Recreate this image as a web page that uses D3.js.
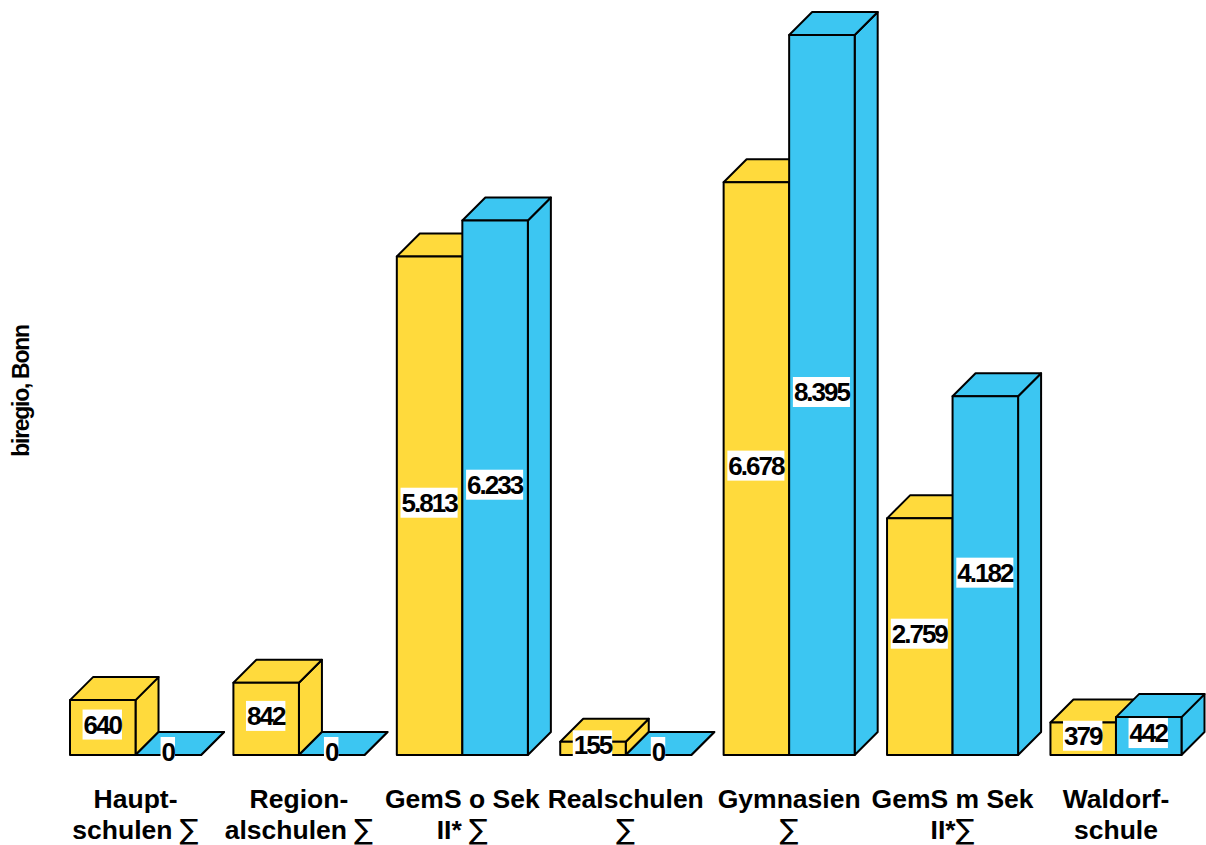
<!DOCTYPE html>
<html><head><meta charset="utf-8">
<script src="https://cdn.jsdelivr.net/npm/d3@7"></script>
<style>html,body{margin:0;padding:0;background:#fff;overflow:hidden}svg{display:block}text{font-family:"Liberation Sans",Arial,sans-serif}</style>
</head><body><div id="chart"></div>
<script>
const categories = ["Haupt-\nschulen ∑","Region-\nalschulen ∑","GemS o Sek\nII* ∑","Realschulen\n∑","Gymnasien\n∑","GemS m Sek\nII*∑","Waldorf-\nschule"];
const seriesNames = ["A","B"];
const seriesA = [640,842,5813,155,6678,2759,379];
const seriesB = [0,0,6233,0,8395,4182,442];
const seriesColors = ["#FFDA3C","#3CC6F2"];
const axisTitle = "biregio, Bonn";

const W=1206,H=845,depth=23;
const svg=d3.select("#chart").append("svg").attr("width",W).attr("height",H);
const x=d3.scaleBand().domain(categories).range([70,1181.5]).paddingInner(0.198).paddingOuter(0);
const xs=d3.scaleBand().domain(seriesNames).range([0,x.bandwidth()]);
const y=d3.scaleLinear().domain([0,8395]).range([755,35]);
const color=d3.scaleOrdinal().domain(seriesNames).range(seriesColors);
const fmt=d3.formatLocale({decimal:",",thousands:".",grouping:[3],currency:["","€"]}).format(",d");
const rows=[];
seriesNames.forEach((s,si)=>{const vals=si?seriesB:seriesA;categories.forEach((c,i)=>rows.push({c,s,v:vals[i]}));});
rows.sort((a,b)=>categories.indexOf(a.c)-categories.indexOf(b.c)||seriesNames.indexOf(a.s)-seriesNames.indexOf(b.s));
const style=sel=>sel.attr("stroke","#000").attr("stroke-width",2).attr("stroke-linejoin","round");
const bars=svg.append("g").selectAll("g").data(rows).join("g").each(function(d){
  const g=d3.select(this),x0=x(d.c)+xs(d.s),x1=x0+xs.bandwidth(),y0=y(0),yt=y(d.v),f=color(d.s);
  const path=p=>g.append("path").attr("d",d3.line()(p)+"Z").attr("fill",f).call(style);
  path([[x1,y0],[x1+depth,y0-depth],[x1+depth,yt-depth],[x1,yt]]);
  path([[x0,yt],[x0+depth,yt-depth],[x1+depth,yt-depth],[x1,yt]]);
  if(d.v>0) path([[x0,y0],[x1,y0],[x1,yt],[x0,yt]]);
});
const labels=svg.append("g").selectAll("g").data(rows).join("g").each(function(d){
  const g=d3.select(this),cx=x(d.c)+xs(d.s)+xs.bandwidth()/2-0.5,cy=(y(0)+y(d.v))/2-3;
  const r=g.append("rect").attr("fill","#fff");
  const t=g.append("text").attr("x",cx).attr("y",cy+9).attr("text-anchor","middle")
    .attr("font-size",26).attr("font-weight","bold").attr("letter-spacing",-2).attr("fill","#000").text(fmt(d.v));
  const w=t.node().getComputedTextLength()+2;
  r.attr("x",cx-w/2).attr("y",cy-15).attr("width",w).attr("height",30);
});
const catG=svg.append("g").selectAll("text").data(categories).join("text")
  .attr("text-anchor","middle").attr("font-size",26.5).attr("font-weight","bold").attr("fill","#000");
catG.each(function(c){
  const sel=d3.select(this),cx=x(c)+x.bandwidth()/2;
  c.split("\n").forEach((ln,i)=>{
    const ts=sel.append("tspan").attr("x",cx).attr("y",808+i*31);
    ln.split(/(∑)/).filter(Boolean).forEach(part=>{
      const p=ts.append("tspan").text(part);
      if(part==="∑") p.attr("font-weight","normal").attr("font-family","'DejaVu Sans'").attr("font-size",28);
    });
  });
});
svg.append("text").attr("transform","translate(29,391) rotate(-90)").attr("text-anchor","middle")
  .attr("font-size",23).attr("font-weight","bold").attr("letter-spacing",-1.3).attr("fill","#000").text(axisTitle);
</script></body></html>
